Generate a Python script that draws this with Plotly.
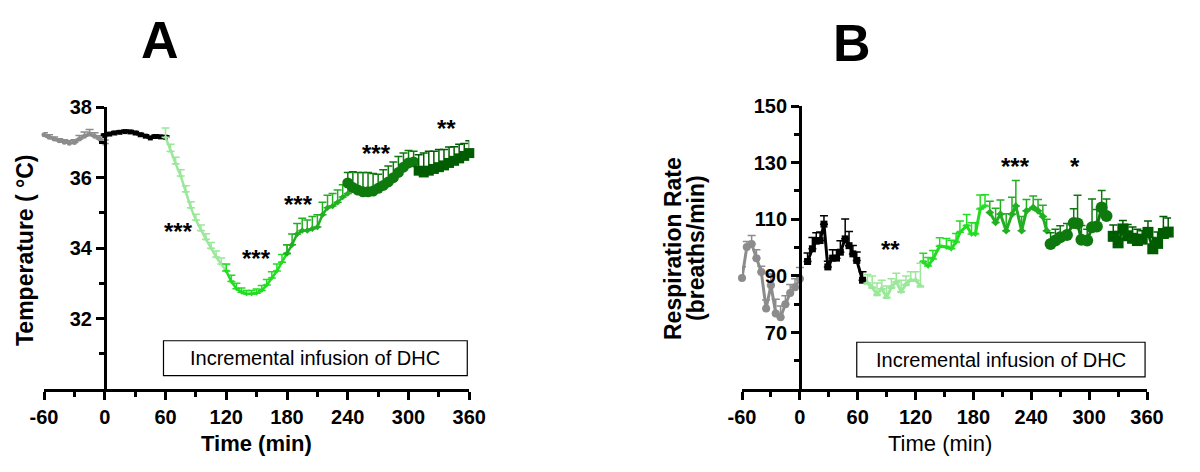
import plotly.graph_objects as go

# ---------------- Panel A : body temperature ----------------
a_gray_t = [-60, -55, -50, -45, -40, -35, -30, -25, -20, -15, -10, -5, 0]
a_gray_v = [37.22, 37.15, 37.1, 37.05, 37.01, 36.98, 37.0, 37.1, 37.18, 37.24, 37.18, 37.1, 36.97]
a_gray_e = [0.06, 0.07, 0.06, 0.06, 0.07, 0.07, 0.08, 0.1, 0.12, 0.13, 0.1, 0.09, 0.1]

a_black_t = [0, 5, 10, 15, 20, 25, 30, 35, 40, 45, 50, 55, 60]
a_black_v = [37.2, 37.24, 37.27, 37.29, 37.31, 37.3, 37.27, 37.22, 37.18, 37.13, 37.17, 37.16, 37.15]
a_black_e = [0.04] * 13

a_lg_t = [60, 65, 70, 75, 80, 85, 90, 95, 100, 105, 110, 115, 120]
a_lg_v = [37.15, 36.75, 36.4, 36.05, 35.6, 35.15, 34.8, 34.5, 34.25, 34.0, 33.75, 33.55, 33.35]
a_lg_e = [0.26, 0.2, 0.18, 0.18, 0.17, 0.17, 0.16, 0.16, 0.16, 0.16, 0.17, 0.17, 0.18]

a_bg_t = [120, 125, 130, 135, 140, 145, 150, 155, 160, 165, 170, 175, 180]
a_bg_v = [33.35, 33.05, 32.85, 32.75, 32.7, 32.7, 32.72, 32.8, 32.95, 33.15, 33.35, 33.6, 33.85]
a_bg_e = [0.2, 0.18, 0.15, 0.12, 0.1, 0.1, 0.12, 0.14, 0.16, 0.18, 0.2, 0.22, 0.25]

a_mg_t = [180, 185, 190, 195, 200, 205, 210, 215, 220, 225, 230, 235, 240]
a_mg_v = [33.85, 34.1, 34.4, 34.5, 34.5, 34.55, 34.6, 34.95, 35.15, 35.2, 35.3, 35.45, 35.55]
a_mg_e = [0.25, 0.3, 0.3, 0.35, 0.3, 0.35, 0.35, 0.35, 0.35, 0.35, 0.35, 0.35, 0.3]

a_dg_t = [240, 245, 250, 255, 260, 265, 270, 275, 280, 285, 290, 295, 300, 305]
a_dg_v = [35.85, 35.72, 35.65, 35.6, 35.6, 35.62, 35.7, 35.78, 35.88, 36.0, 36.15, 36.3, 36.42, 36.45]
a_dg_e = [0.3, 0.45, 0.5, 0.55, 0.55, 0.5, 0.4, 0.45, 0.45, 0.45, 0.45, 0.4, 0.35, 0.3]

a_dk_t = [310, 315, 320, 325, 330, 335, 340, 345, 350, 355, 360]
a_dk_v = [36.2, 36.15, 36.2, 36.25, 36.3, 36.35, 36.42, 36.48, 36.55, 36.62, 36.7]
a_dk_e = [0.45, 0.55, 0.55, 0.5, 0.5, 0.45, 0.45, 0.4, 0.4, 0.35, 0.35]

# ---------------- Panel B : respiration rate ----------------
b_gray_t = [-60, -55, -50, -45, -40, -35, -30, -25, -20, -15, -10, -5, 0]
b_gray_v = [89.3, 100.2, 101.3, 96.3, 91.4, 78.5, 86.7, 76.8, 75.4, 80, 84, 86, 89]
b_gray_e = [4, 2, 3, 3, 2, 3, 4, 5, 4, 3, 3, 3, 4]

b_black_t = [8, 13, 17, 21, 25, 29, 34, 38, 42, 47, 51, 55, 59, 65]
b_black_v = [95.1, 99.6, 102.3, 102.5, 108.3, 93.2, 96.3, 96.3, 98.4, 103.1, 100.7, 97.8, 95.5, 88.5]
b_black_e = [3, 4, 3, 3, 3, 2, 3, 3, 4, 7, 5, 3, 3, 3]

b_lg_t = [70, 75, 80, 85, 90, 95, 100, 105, 110, 115, 120, 125]
b_lg_v = [87.5, 86, 83.5, 85.5, 82.5, 86, 88, 84.5, 87, 88.5, 88.5, 86.5]
b_lg_e = [3, 4, 4, 3, 4, 3, 3, 4, 3, 3, 3, 8]

b_bg_t = [128, 133, 138, 145, 152, 157, 162, 166, 173, 178, 182, 187, 192]
b_bg_v = [95, 93.5, 96, 100.5, 100.2, 99.6, 102, 105.4, 107.7, 104.8, 104.8, 113.6, 114.7]
b_bg_e = [3, 3, 3, 3, 3, 3, 3, 4, 4, 4, 4, 5, 4]

b_mg_t = [197, 203, 208, 214, 220, 224, 230, 235, 242, 247, 252, 256]
b_mg_v = [112.4, 108.9, 111.8, 106, 111.8, 114.7, 106, 113, 114.2, 113, 111, 106]
b_mg_e = [4, 5, 5, 6, 6, 9, 5, 4, 4, 4, 4, 4]

b_dg_t = [260, 265, 270, 277, 284, 288, 292, 298, 303, 308, 313, 318]
b_dg_v = [101.3, 102.5, 103.7, 104.5, 108.7, 108.5, 102.8, 102.5, 107.2, 107.5, 114.2, 111.2]
b_dg_e = [4, 4, 4, 4, 5, 10, 5, 4, 10, 6, 6, 6]

b_dk_t = [325, 330, 335, 340, 345, 350, 355, 361, 366, 371, 377, 382]
b_dk_v = [104, 101.7, 106.6, 104.2, 103.3, 102.5, 103, 105.4, 99.6, 101.5, 105, 105.5]
b_dk_e = [4, 4, 3, 4, 4, 4, 3, 4, 4, 4, 6, 5]

x_ticks = [-60, 0, 60, 120, 180, 240, 300, 360]
x_ticktext = ["-60", "0", "60", "120", "180", "240", "300", "360"]

FONT = "Arial, Liberation Sans, sans-serif"

styles = [
    # colour, marker symbol, size A, size B
    ("#8c8c8c", "circle", 5, 8),
    ("#000000", "square", 5, 7),
    ("#9be89b", "triangle-up", 5, 7),
    ("#22dd22", "triangle-down", 5, 6),
    ("#22b022", "diamond", 5, 6),
    ("#0e7a0e", "circle", 11, 12),
    ("#005c00", "square", 10, 11),
]

a_series = [(a_gray_t, a_gray_v, a_gray_e), (a_black_t, a_black_v, a_black_e),
            (a_lg_t, a_lg_v, a_lg_e), (a_bg_t, a_bg_v, a_bg_e),
            (a_mg_t, a_mg_v, a_mg_e), (a_dg_t, a_dg_v, a_dg_e),
            (a_dk_t, a_dk_v, a_dk_e)]
b_series = [(b_gray_t, b_gray_v, b_gray_e), (b_black_t, b_black_v, b_black_e),
            (b_lg_t, b_lg_v, b_lg_e), (b_bg_t, b_bg_v, b_bg_e),
            (b_mg_t, b_mg_v, b_mg_e), (b_dg_t, b_dg_v, b_dg_e),
            (b_dk_t, b_dk_v, b_dk_e)]

fig = go.Figure()

for (t, v, e), (col, sym, sa, sb) in zip(a_series, styles):
    fig.add_trace(go.Scatter(
        x=t, y=v, mode="lines+markers", xaxis="x", yaxis="y",
        line=dict(color=col, width=2.5),
        marker=dict(color=col, symbol=sym, size=sa),
        error_y=dict(type="data", symmetric=False, array=e, arrayminus=[0] * len(e),
                     color=col, thickness=1.5, width=4),
        cliponaxis=False, showlegend=False))

for (t, v, e), (col, sym, sa, sb) in zip(b_series, styles):
    fig.add_trace(go.Scatter(
        x=t, y=v, mode="lines+markers", xaxis="x2", yaxis="y2",
        line=dict(color=col, width=3),
        marker=dict(color=col, symbol=sym, size=sb),
        error_y=dict(type="data", symmetric=False, array=e, arrayminus=[0] * len(e),
                     color=col, thickness=1.5, width=4),
        cliponaxis=False, showlegend=False))

W, H = 1200, 472
OFF = 8  # page body margin, positions below are in screen pixels

def px(x):
    return (x - OFF) / W

def py(y):
    return 1 - (y - OFF) / H

TICKFONT = dict(family=FONT, size=20, color="black", weight="bold")
ax_common = dict(showgrid=False, zeroline=False, showline=True, linecolor="black",
                 linewidth=2.5, ticks="outside", tickcolor="black", tickwidth=2.5,
                 ticklen=8, tickfont=TICKFONT, automargin=False)
MINOR = dict(ticklen=5, tickwidth=2.5, tickcolor="black", ticks="outside")

# panel A geometry (screen pixels)
ax0, ax1 = 44, 469.3
ay_top, ay_bot = 107.3, 389
# panel B geometry
bx0, bx1 = 742, 1147
by_top, by_bot = 106, 389.3
b_ppm = (bx1 - bx0) / 420.0

XM = [-30, 30, 90, 150, 210, 270, 330]

fig.update_layout(
    width=W, height=H,
    margin=dict(l=0, r=0, t=0, b=0, pad=0, autoexpand=False),
    plot_bgcolor="rgba(0,0,0,0)", paper_bgcolor="white",
    xaxis=dict(ax_common, domain=[px(ax0), px(ax1)], range=[-60, 360], anchor="y",
               tickvals=x_ticks, ticktext=x_ticktext, minor=dict(MINOR, tickvals=XM)),
    yaxis=dict(ax_common, domain=[py(ay_bot), py(ay_top)], range=[30, 38],
               anchor="free", position=px(ax0 + 60 * (ax1 - ax0) / 420),
               tickvals=[32, 34, 36, 38], minor=dict(MINOR, tickvals=[31, 33, 35, 37])),
    # data axis for B (extends past 360 so the last points are not clipped)
    xaxis2=dict(domain=[px(bx0), px(bx1 + 25 * b_ppm)], range=[-60, 385],
                anchor="y2", visible=False),
    xaxis3=dict(ax_common, domain=[px(bx0), px(bx1)], range=[-60, 360], anchor="y2",
                tickvals=x_ticks, ticktext=x_ticktext, minor=dict(MINOR, tickvals=XM)),
    yaxis2=dict(ax_common, domain=[py(by_bot), py(by_top)], range=[50, 150],
                anchor="free", position=px(bx0 + 60 * b_ppm),
                tickvals=[70, 90, 110, 130, 150],
                minor=dict(MINOR, tickvals=[60, 80, 100, 120, 140])),
)

# infusion boxes
fig.add_shape(type="rect", xref="x", yref="y", x0=58, x1=358, y0=30.38, y1=31.37,
              line=dict(color="black", width=1.2), fillcolor="white", layer="below")
fig.add_shape(type="rect", xref="x3", yref="y2", x0=59, x1=358, y0=54.4, y1=66.6,
              line=dict(color="black", width=1.2), fillcolor="white", layer="below")

ann = []
def txt(x, y, s, size, xref="paper", yref="paper", bold=False, angle=0):
    ann.append(dict(x=x, y=y, xref=xref, yref=yref, text=s, showarrow=False,
                    textangle=angle, xanchor="center", yanchor="middle",
                    font=dict(family=FONT, size=size, color="black",
                              weight="bold" if bold else "normal")))

txt(208, 30.87, "Incremental infusion of DHC", 20, "x", "y")
txt(209, 60.5, "Incremental infusion of DHC", 20, "x3", "y2")

# panel letters
txt(px(160), py(40), "A", 52, bold=True)
txt(px(852), py(43), "B", 52, bold=True)

# axis titles
txt(px(256), py(443), "Time (min)", 22, bold=True)
txt(px(940), py(443), "Time (min)", 22)
txt(px(25), py(250), "Temperature ( \u00b0C)", 23, bold=True, angle=-90)
txt(px(673), py(249), "Respiration Rate", 23, bold=True, angle=-90)
txt(px(696), py(248), "(breaths/min)", 23, bold=True, angle=-90)

# significance marks
for x, y, s in [(73, 34.48, "***"), (150, 33.7, "***"), (191, 35.25, "***"),
                (268, 36.7, "***"), (337, 37.41, "**")]:
    txt(x, y, s, 24, "x", "y", bold=True)
for x, y, s in [(94, 99.3, "**"), (224, 128.8, "***"), (285, 128.8, "*")]:
    txt(x, y, s, 24, "x3", "y2", bold=True)

fig.update_layout(annotations=ann)
fig.write_html("out.html")
